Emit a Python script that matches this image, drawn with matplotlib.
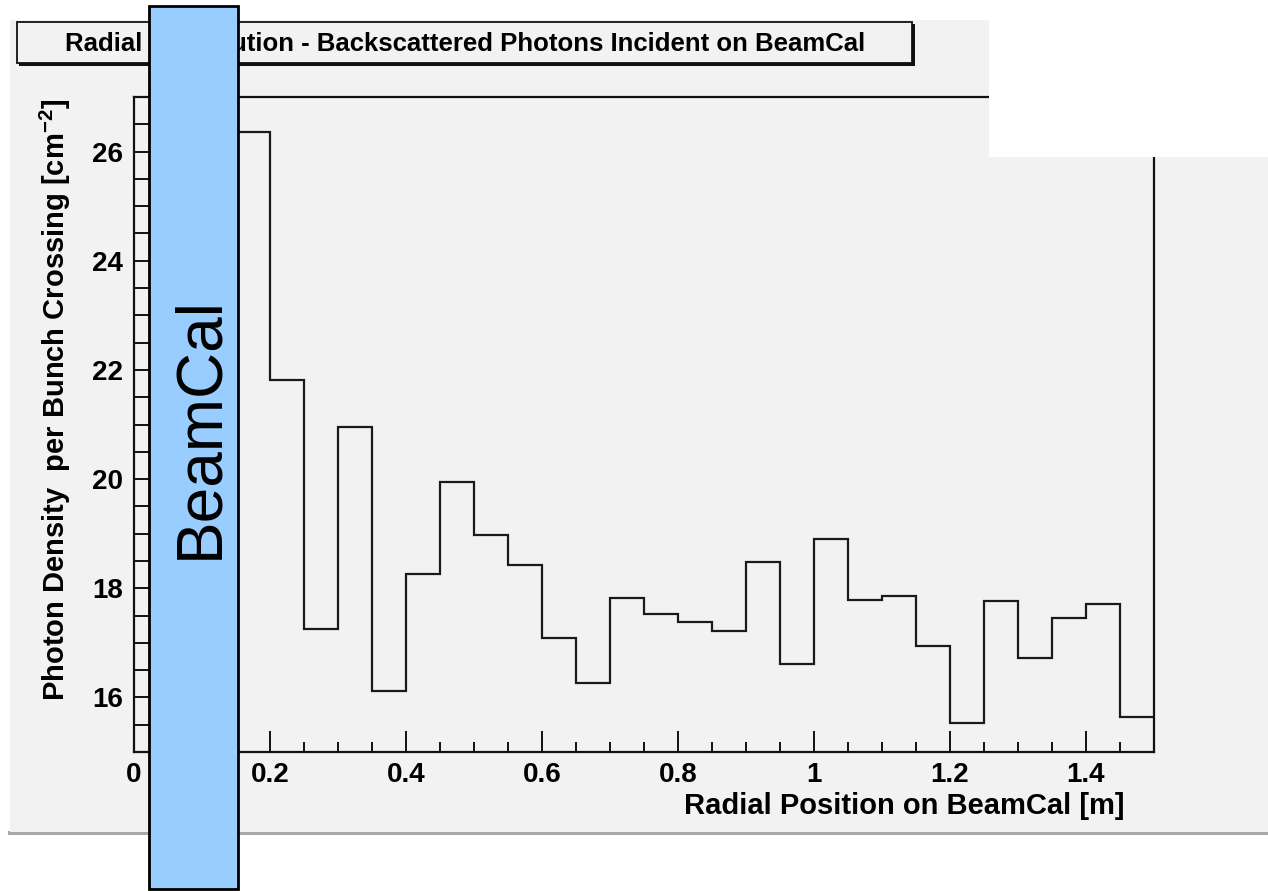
import matplotlib
matplotlib.use("Agg")
import matplotlib.pyplot as plt
from matplotlib.patches import Rectangle
from matplotlib.ticker import MultipleLocator

# ---- data ----
bin_edges = [0.15, 0.20, 0.25, 0.30, 0.35, 0.40, 0.45, 0.50, 0.55, 0.60,
             0.65, 0.70, 0.75, 0.80, 0.85, 0.90, 0.95, 1.00, 1.05, 1.10,
             1.15, 1.20, 1.25, 1.30, 1.35, 1.40, 1.45, 1.50]
photon_density = [26.36, 21.82, 17.26, 20.95, 16.12, 18.26, 19.94, 18.97, 18.43,
                  17.09, 16.26, 17.82, 17.52, 17.39, 17.22, 18.49, 16.62, 18.90,
                  17.79, 17.86, 16.95, 15.54, 17.76, 16.72, 17.46, 17.72, 15.64]
x_major = [0, 0.2, 0.4, 0.6, 0.8, 1.0, 1.2, 1.4]
x_labels = ["0", "0.2", "0.4", "0.6", "0.8", "1", "1.2", "1.4"]
y_major = [16, 18, 20, 22, 24, 26]
y_labels = ["16", "18", "20", "22", "24", "26"]
title = "Radial Distribution - Backscattered Photons Incident on BeamCal"
xlabel = "Radial Position on BeamCal [m]"
ylabel = "Photon Density  per Bunch Crossing [cm$^{\\mathbf{-2}}$]"
overlay_label = "BeamCal"

W, H = 1268, 891
plt.rcParams['font.family'] = ['Liberation Sans', 'DejaVu Sans']
plt.rcParams['mathtext.fontset'] = 'custom'
plt.rcParams['mathtext.rm'] = 'Liberation Sans:bold'
plt.rcParams['mathtext.bf'] = 'Liberation Sans:bold'
plt.rcParams['mathtext.it'] = 'Liberation Sans:bold'

fig = plt.figure(figsize=(W / 100, H / 100), dpi=100)
fig.patch.set_facecolor('white')

def fx(x):
    return x / W

def fy(y):
    return 1 - y / H

def rect(x0, y0, x1, y1, **kw):
    r = Rectangle((fx(x0), fy(y1)), fx(x1) - fx(x0), fy(y0) - fy(y1),
                  transform=fig.transFigure, **kw)
    fig.add_artist(r)
    return r

GRAY = '#f2f2f2'
# canvas panel + bottom shadow
rect(8, 831, W, 835, facecolor='#a9a9a9', edgecolor='none', zorder=-3)
rect(10, 20, W, 832, facecolor=GRAY, edgecolor='none', zorder=-2)

# axes
ax = fig.add_axes([fx(134), fy(752), fx(1154) - fx(134), fy(97) - fy(752)])
ax.set_facecolor(GRAY)
ax.stairs(photon_density, bin_edges, baseline=None, color='#1a1a1a', lw=1.6)
ax.set_xlim(0, 1.5)
ax.set_ylim(15, 27)
ax.set_xticks(x_major)
ax.set_xticklabels(x_labels)
ax.set_yticks(y_major)
ax.set_yticklabels(y_labels)
ax.xaxis.set_minor_locator(MultipleLocator(0.05))
ax.yaxis.set_minor_locator(MultipleLocator(0.5))
ax.tick_params(axis='x', which='major', direction='in', length=15, width=1.3,
               pad=7, labelsize=20)
ax.tick_params(axis='x', which='minor', direction='in', length=7.2, width=1.3)
ax.tick_params(axis='y', which='major', direction='in', length=21.6, width=1.3,
               pad=8, labelsize=20)
ax.tick_params(axis='y', which='minor', direction='in', length=10.8, width=1.3)
for lab in ax.get_xticklabels() + ax.get_yticklabels():
    lab.set_fontweight('bold')
for s in ax.spines.values():
    s.set_linewidth(1.6)
    s.set_color('#111111')

# axis labels
fig.text(fx(1125), fy(806), xlabel, ha='right', va='center',
         fontsize=21, fontweight='bold')
fig.text(fx(55), fy(400), ylabel, ha='center', va='center', rotation=90,
         fontsize=21, fontweight='bold')

# title box
rect(19, 24, 915, 66, facecolor='#111111', edgecolor='none', zorder=4)
rect(17, 22, 912, 63, facecolor=GRAY, edgecolor='#111111', lw=1.3, zorder=5)
fig.text(fx(465), fy(44), title, ha='center', va='center',
         fontsize=18.5, fontweight='bold', zorder=6)

# white box covering top right
rect(989, 0, W, 157, facecolor='white', edgecolor='none', zorder=7)

# BeamCal overlay
rect(149, 6, 238, 889, facecolor='#99ccff', edgecolor='black', lw=2, zorder=8)
fig.text(fx(200), fy(428), overlay_label, ha='center', va='center',
         rotation=90, fontsize=46, zorder=9)

fig.savefig('out.png', dpi=100)
